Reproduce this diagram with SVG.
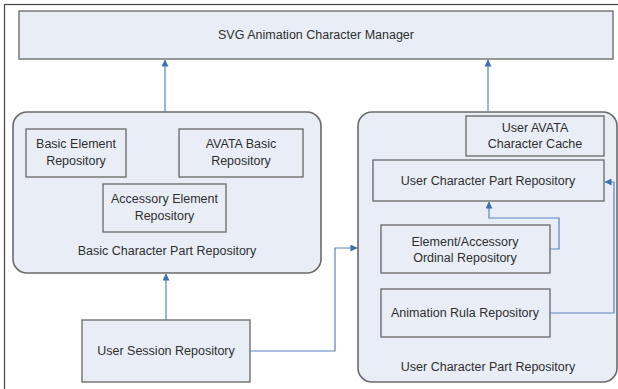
<svg xmlns="http://www.w3.org/2000/svg" width="618" height="389" viewBox="0 0 618 389">
  <defs>
    <style>
      .box { fill: #e9eef6; stroke: #707070; stroke-width: 1.4; }
      .group { fill: #e9eef6; stroke: #6a6a6a; stroke-width: 1.6; }
      .label { font-family: "Liberation Sans", Arial, sans-serif; font-size: 12.5px; fill: #2e2e2e; text-anchor: middle; }
      .conn { fill: none; stroke: #5a84bd; stroke-width: 1.2; }
    </style>
    <marker id="arrow" viewBox="0 0 8 8" refX="7.5" refY="4" markerWidth="7" markerHeight="7" markerUnits="userSpaceOnUse" orient="auto">
      <path d="M0,0 L8,4 L0,8 z" fill="#3f6fb0"/>
    </marker>
  </defs>

  <rect x="0" y="0" width="618" height="389" fill="#ffffff"/>
  <!-- outer frame -->
  <rect x="4.5" y="4.5" width="620" height="392" fill="none" stroke="#444" stroke-width="1.2"/>

  <g id="manager">
    <rect class="box" x="19" y="11" width="594" height="48"/>
    <text class="label" x="316" y="39">SVG Animation Character Manager</text>
  </g>

  <g id="basic-part-repo">
    <rect class="group" x="13" y="112" width="308" height="161" rx="14"/>
    <text class="label" x="167" y="255">Basic Character Part Repository</text>
  </g>
  <g id="basic-element">
    <rect class="box" x="26" y="129" width="100" height="48"/>
    <text class="label" x="76" y="148">Basic Element</text>
    <text class="label" x="76" y="165">Repository</text>
  </g>
  <g id="avata-basic">
    <rect class="box" x="179" y="129" width="124" height="48"/>
    <text class="label" x="241" y="148">AVATA Basic</text>
    <text class="label" x="241" y="165">Repository</text>
  </g>
  <g id="accessory-element">
    <rect class="box" x="103" y="184" width="123" height="48"/>
    <text class="label" x="164.5" y="203">Accessory Element</text>
    <text class="label" x="164.5" y="220">Repository</text>
  </g>

  <g id="user-session">
    <rect class="box" x="82" y="320" width="168" height="62"/>
    <text class="label" x="166" y="355">User Session Repository</text>
  </g>

  <g id="user-part-repo">
    <rect class="group" x="358" y="112" width="259" height="270" rx="14"/>
    <text class="label" x="488" y="371">User Character Part Repository</text>
  </g>
  <g id="avata-cache">
    <rect class="box" x="466" y="116" width="138" height="40"/>
    <text class="label" x="535" y="132">User AVATA</text>
    <text class="label" x="535" y="148">Character Cache</text>
  </g>
  <g id="user-character-part">
    <rect class="box" x="373" y="160" width="231" height="41"/>
    <text class="label" x="488" y="185">User Character Part Repository</text>
  </g>
  <g id="ordinal">
    <rect class="box" x="381" y="225" width="169" height="48"/>
    <text class="label" x="465" y="246">Element/Accessory</text>
    <text class="label" x="465" y="262">Ordinal Repository</text>
  </g>
  <g id="animation-rule">
    <rect class="box" x="381" y="289" width="169" height="48"/>
    <text class="label" x="465" y="317">Animation Rula Repository</text>
  </g>

  <g id="connectors">
    <path class="conn" d="M165,112 V60" marker-end="url(#arrow)"/>
    <path class="conn" d="M488,112 V60" marker-end="url(#arrow)"/>
    <path class="conn" d="M166,320 V274" marker-end="url(#arrow)"/>
    <path class="conn" d="M250,351 H335 V248 H357" marker-end="url(#arrow)"/>
    <path class="conn" d="M550,249 H559 V218 H489 V202" marker-end="url(#arrow)"/>
    <path class="conn" d="M550,313 H614 V182 H605" marker-end="url(#arrow)"/>
  </g>
</svg>
